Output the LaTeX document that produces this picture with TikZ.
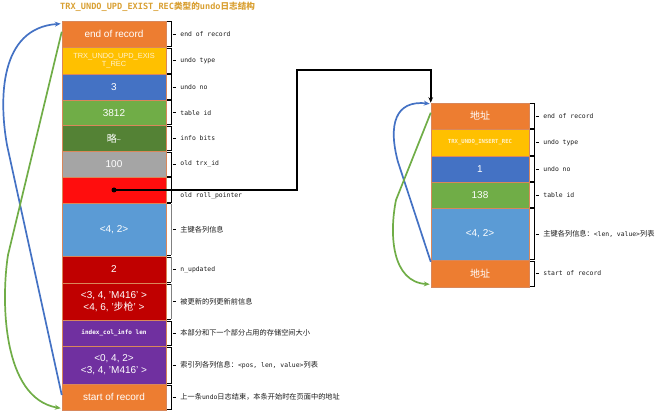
\documentclass[tikz,border=0pt]{standalone}
\usepackage{fontspec}
\setmainfont{Liberation Sans}
\newfontfamily\cjk{Noto Sans CJK SC}
\newfontfamily\mono{DejaVu Sans Mono}
\usetikzlibrary{calc,arrows.meta}
\definecolor{cOrange}{HTML}{ED7D31}
\definecolor{cGold}{HTML}{FFC000}
\definecolor{cBlue}{HTML}{4472C4}
\definecolor{cGreen}{HTML}{70AD47}
\definecolor{cDkGreen}{HTML}{548235}
\definecolor{cGrey}{HTML}{A5A5A5}
\definecolor{cRed}{HTML}{FF0D0D}
\definecolor{cLtBlue}{HTML}{5B9BD5}
\definecolor{cDkRed}{HTML}{C00000}
\definecolor{cPurple}{HTML}{7030A0}
\definecolor{cEdge}{HTML}{D9875A}
\definecolor{cTitle}{HTML}{D9A033}
\definecolor{cPale}{HTML}{FFF2CC}
\definecolor{cLabel}{HTML}{1A1A1A}
\newcommand{\zhtxt}[1]{{\cjk\fontsize{7.2}{8.6}\selectfont #1}}
\begin{document}
\begin{tikzpicture}[x=1pt,y=-1pt,
  row/.style={draw=cEdge, line width=0.5pt, minimum width=104pt, inner sep=0pt,
    text=white, font=\fontsize{10}{12}\selectfont, align=center},
  rrow/.style={row, minimum width=98pt},
  lbl/.style={anchor=west, inner sep=0pt, text=cLabel, font=\mono\fontsize{6.4}{7.5}\selectfont},
  brk/.style={line width=0.5pt, draw=black},
  gbrk/.style={line width=0.8pt, draw=gray},
  ptr/.style={line width=1.6pt, draw=black, -{Stealth[length=5.5pt,width=4.5pt]}},
  bluecurve/.style={line width=1.7pt, draw=cBlue, -{Stealth[length=6pt,width=5pt]}},
  greencurve/.style={line width=1.7pt, draw=cGreen, -{Stealth[length=6pt,width=5pt]}}]
\useasboundingbox (0,0) rectangle (672,414);

% title
\node[anchor=west, inner sep=0pt, text=cTitle] (title) at (60,7)
  {\mono\bfseries\fontsize{8.6}{10}\selectfont TRX\_UNDO\_UPD\_EXIST\_REC{\cjk 类型的}undo{\cjk 日志结构}};

% left column
\node[row, fill=cOrange, minimum height=26.5pt] (r1) at (114,34.25) {end of record};
\node[row, fill=cGold, minimum height=26.5pt, text=cPale, font=\fontsize{7.4}{8.6}\selectfont] (r2) at (114,60.75) {TRX\_UNDO\_UPD\_EXIS\\T\_REC};
\node[row, fill=cBlue, minimum height=26pt] (r3) at (114,87) {3};
\node[row, fill=cGreen, minimum height=25.5pt] (r4) at (114,112.75) {3812};
\node[row, fill=cDkGreen, minimum height=26pt] (r5) at (114,138.5) {{\cjk 略}{\fontsize{7}{8}\selectfont\textasciitilde}};
\node[row, fill=cGrey, minimum height=25.5pt] (r6) at (114,164.25) {100};
\node[row, fill=cRed, minimum height=26pt] (r7) at (114,190) {};
\node[row, fill=cLtBlue, minimum height=53pt] (r8) at (114,229.5) {<4, 2>};
\node[row, fill=cDkRed, minimum height=27pt] (r9) at (114,269.5) {2};
\node[row, fill=cDkRed, minimum height=37pt] (r10) at (114,301.5) {<3, 4, 'M416' >\\<4, 6, '{\cjk 步枪}' >};
\node[row, fill=cPurple, minimum height=26pt, font=\mono\bfseries\fontsize{6}{7}\selectfont] (r11) at (114,333) {index\_col\_info len};
\node[row, fill=cPurple, minimum height=38pt] (r12) at (114,365) {<0, 4, 2>\\<3, 4, 'M416' >};
\node[row, fill=cOrange, minimum height=26pt] (r13) at (114,397) {start of record};

% right column
\node[rrow, fill=cOrange, minimum height=26pt] (q1) at (480,116) {{\cjk 地址}};
\node[rrow, fill=cGold, minimum height=27pt, text=cPale, font=\mono\bfseries\fontsize{5.6}{7}\selectfont] (q2) at (480,142.5) {TRX\_UNDO\_INSERT\_REC};
\node[rrow, fill=cBlue, minimum height=26pt] (q3) at (480,169) {1};
\node[rrow, fill=cGreen, minimum height=26pt] (q4) at (480,195) {138};
\node[rrow, fill=cLtBlue, minimum height=52pt] (q5) at (480,234) {<4, 2>};
\node[rrow, fill=cOrange, minimum height=27pt] (q6) at (480,273.5) {{\cjk 地址}};

% brackets
\foreach \n in {r1,r2,r3,r4,r5,r6,r7,r11,r12,r13,q1,q2,q3,q4,q5,q6} {
  \draw[brk] ($(\n.north east)+(0.5,1)$) -- ++(4.5,0) |- ($(\n.south east)+(0.5,-1)$);
  \draw[brk] ($(\n.east)+(6.5,0)$) -- ++(3,0);
}
\foreach \n in {r8,r9,r10} {
  \draw[brk] ($(\n.north east)+(0.5,1)$) -- ++(4.5,0);
  \draw[brk] ($(\n.south east)+(0.5,-1)$) -- ++(4.5,0);
  \draw[gbrk] ($(\n.north east)+(5,1)$) -- ($(\n.south east)+(5,-1)$);
  \draw[brk] ($(\n.east)+(6.5,0)$) -- ++(3,0);
}

% left labels
\node[lbl] (l1) at ($(r1.east)+(14,0)$) {end of record};
\node[lbl] (l2) at ($(r2.east)+(14,0)$) {undo type};
\node[lbl] (l3) at ($(r3.east)+(14,0)$) {undo no};
\node[lbl] (l4) at ($(r4.east)+(14,0)$) {table id};
\node[lbl] (l5) at ($(r5.east)+(14,0)$) {info bits};
\node[lbl] (l6) at ($(r6.east)+(14,0)$) {old trx\_id};
\node[lbl] (l7) at ($(r7.east)+(14,5.5)$) {old roll\_pointer};
\node[lbl] (l8) at ($(r8.east)+(14,0)$) {\zhtxt{主键各列信息}};
\node[lbl] (l9) at ($(r9.east)+(14,0)$) {n\_updated};
\node[lbl] (l10) at ($(r10.east)+(14,0)$) {\zhtxt{被更新的列更新前信息}};
\node[lbl] (l11) at ($(r11.east)+(14,0)$) {\zhtxt{本部分和下一个部分占用的存储空间大小}};
\node[lbl] (l12) at ($(r12.east)+(14,0)$) {\zhtxt{索引列各列信息：}<pos, len, value>\zhtxt{列表}};
\node[lbl] (l13) at ($(r13.east)+(14,0)$) {\zhtxt{上一条}undo\zhtxt{日志结束，本条开始时在页面中的地址}};

% right labels
\node[lbl] (m1) at ($(q1.east)+(14,0)$) {end of record};
\node[lbl] (m2) at ($(q2.east)+(14,0)$) {undo type};
\node[lbl] (m3) at ($(q3.east)+(14,0)$) {undo no};
\node[lbl] (m4) at ($(q4.east)+(14,0)$) {table id};
\node[lbl] (m5) at ($(q5.east)+(14,0)$) {\zhtxt{主键各列信息：}<len, value>\zhtxt{列表}};
\node[lbl] (m6) at ($(q6.east)+(14,0)$) {start of record};

% roll pointer
\coordinate (dot) at (r7.center);
\coordinate (bend) at (297,70);
\draw[ptr] (dot) -| (bend) -| (q1.north west);
\fill[black] (dot) circle (2.5pt);

% left curves
\coordinate (lbs) at ($(r13.west)+(0,-2)$);
\coordinate (lbe) at ($(r1.north west)+(-1,3)$);
\coordinate (lgs) at ($(r1.north west)+(0,11)$);
\coordinate (lge) at ($(r13.south west)+(-1,-2)$);
\draw[bluecurve] (lbs) -- (7,145) .. controls (-1,100) and (-1,28) .. (lbe);
\draw[greencurve] (lgs) -- (8,255) .. controls (1,300) and (2,398) .. (lge);

% right curves
\coordinate (rbs) at ($(q6.north west)+(0,2)$);
\coordinate (rbe) at ($(q1.north west)+(-1,1)$);
\coordinate (rgs) at ($(q1.north west)+(0,10)$);
\coordinate (rge) at ($(q6.south west)+(-1,-3)$);
\draw[bluecurve] (rbs) -- (398,162) .. controls (388,125) and (395,100) .. (rbe);
\draw[greencurve] (rgs) -- (396,200) .. controls (389,235) and (392,282) .. (rge);
\end{tikzpicture}
\end{document}
